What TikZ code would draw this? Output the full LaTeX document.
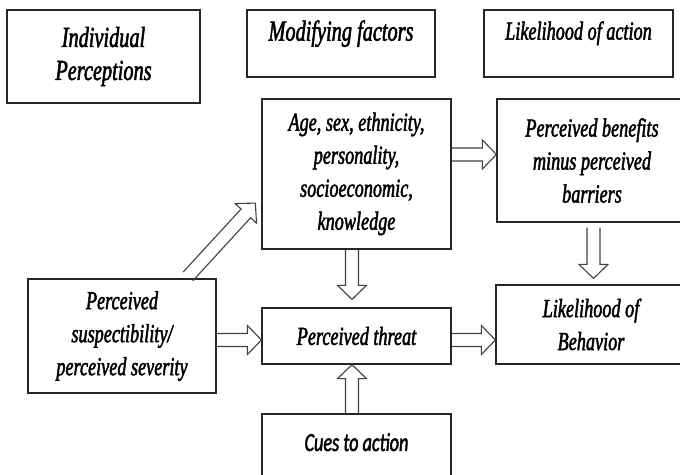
\documentclass[tikz,border=0pt]{standalone}
\usepackage{fontspec}
\newfontfamily\boxfont{Liberation Serif Italic}[FakeStretch=0.70, FakeBold=1.8]
\newfontfamily\cuesfont{Carlito Italic}[FakeStretch=0.70, FakeBold=1.8]
\usetikzlibrary{positioning,calc}

\tikzset{
  box/.style={draw=black!85, line width=1.2pt, align=center, inner sep=2pt,
    font=\boxfont\fontsize{26}{33}\selectfont},
  head/.style={box, font=\boxfont\fontsize{29}{33}\selectfont},
  hollow/.style={draw=black!75, line width=1.1pt, line join=miter,
    to path={let \p1=(\tikztostart), \p2=(\tikztotarget),
      \n1={atan2(\y2-\y1,\x2-\x1)}, \n2={veclen(\x2-\x1,\y2-\y1)} in
      [shift={(\p1)}, rotate=\n1]
      (0pt,-6.5pt) -- ({\n2*1pt-14pt},-6.5pt) -- ({\n2*1pt-14pt},-14.5pt)
      -- ({\n2*1pt},0pt) -- ({\n2*1pt-14pt},14.5pt) -- ({\n2*1pt-14pt},6.5pt)
      -- (0pt,6.5pt)}}
}

\begin{document}
\begin{tikzpicture}[x=1pt, y=-1pt]
\path[use as bounding box, clip] (0,0) rectangle (680,474);

% column headings
\node[head, minimum width=193pt, minimum height=93pt] (indiv) at (103.5,56.5) {Individual\\Perceptions};
\node[head, minimum width=188pt, minimum height=67pt, text depth=26pt] (modif) at (341,43.5) {Modifying factors};
\node[box, minimum width=189pt, minimum height=67pt, text depth=26pt] (likact) at (578.5,43.5) {Likelihood of action};

% model boxes
\node[box, minimum width=189pt, minimum height=150pt] (age) at (356.5,174) {Age, sex, ethnicity,\\personality,\\socioeconomic,\\knowledge};
\node[box, minimum width=190pt, minimum height=123pt] (benef) at (592,160.5) {Perceived benefits\\minus perceived\\barriers};
\node[box, minimum width=188pt, minimum height=114pt] (susc) at (122,336) {Perceived\\suspectibility/\\perceived severity};
\node[box, minimum width=189pt, minimum height=56pt] (threat) at (356.5,336) {Perceived threat};
\node[box, minimum width=190pt, minimum height=79pt] (behav) at (591,324.5) {Likelihood of\\Behavior};
\node[box, minimum width=189pt, minimum height=66pt, text depth=10pt,
  font=\cuesfont\fontsize{26}{33}\selectfont] (cues) at (356.5,447) {Cues to action};

% hollow arrows
\draw[hollow] ($(susc.north)+(66,-2)$) to ($(age.west)+(-6,29)$);
\draw[hollow] ($(age.east)+(0,-19.5)$) to ($(benef.west)+(0,-6)$);
\draw[hollow] ($(benef.south)+(1.5,5)$) to ($(behav.north)+(2.5,-6)$);
\draw[hollow] ($(age.south)+(-4.5,0)$) to ($(threat.north)+(-4.5,-8)$);
\draw[hollow] ($(susc.east)+(0,4)$) to ($(threat.west)+(0,4)$);
\draw[hollow] ($(threat.east)+(0,4)$) to ($(behav.west)+(0,15.5)$);
\draw[hollow] ($(cues.north)+(-4.5,0)$) to ($(threat.south)+(-4.5,0)$);

\end{tikzpicture}
\end{document}
